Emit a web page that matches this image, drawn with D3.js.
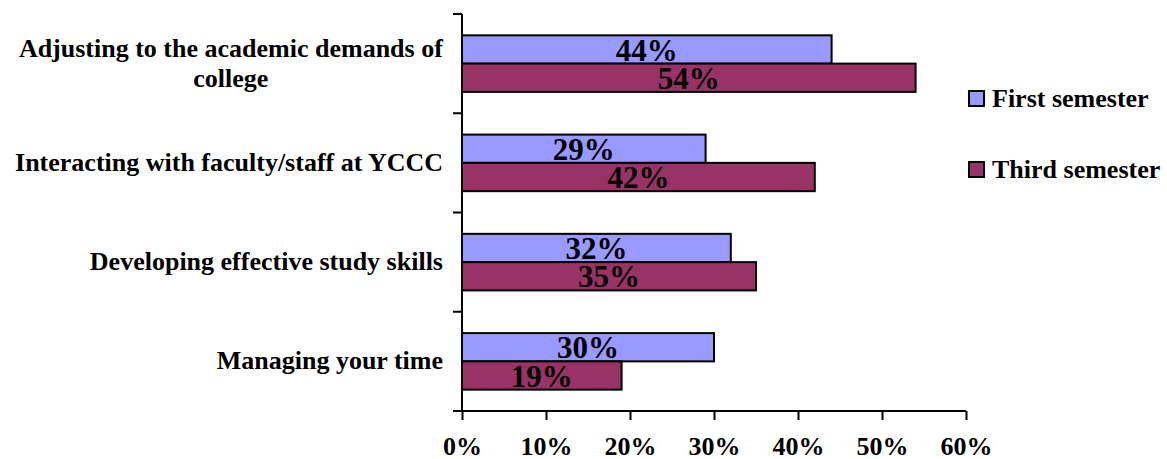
<!DOCTYPE html>
<html>
<head>
<meta charset="utf-8">
<script src="https://cdn.jsdelivr.net/npm/d3@7"></script>
<style>
  html, body { margin: 0; padding: 0; background: #fff; }
  svg { display: block; }
  text { font-family: "Liberation Serif", "Times New Roman", serif; font-weight: bold; fill: #000; }
</style>
</head>
<body>
<svg id="chart" width="1167" height="459"></svg>
<script>
// Categories listed top to bottom
const categories = [
  ["Adjusting to the academic demands of", "college"],
  ["Interacting with faculty/staff at YCCC"],
  ["Developing effective study skills"],
  ["Managing your time"]
];
const seriesNames = ["First semester", "Third semester"];
const firstSemester = [44, 29, 32, 30];
const thirdSemester = [54, 42, 35, 19];
const xTicks = [0, 10, 20, 30, 40, 50, 60];
const colors = ["#9999FF", "#993366"];

const svg = d3.select("#chart");
const plot = { left: 462, right: 966, top: 14, bottom: 411 };

const x = d3.scaleLinear().domain([0, 60]).range([plot.left, plot.right]);
const y = d3.scaleBand().domain(d3.range(categories.length))
  .range([plot.top, plot.bottom]).paddingInner(0.43).paddingOuter(0.215);
const ySub = d3.scaleBand().domain([0, 1]).range([0, y.bandwidth()]);

const series = [firstSemester, thirdSemester];

// Bars
series.forEach((vals, s) => {
  svg.append("g").selectAll("rect").data(vals).join("rect")
    .attr("x", x(0))
    .attr("y", (d, i) => y(i) + ySub(s))
    .attr("width", d => x(d) - x(0))
    .attr("height", ySub.bandwidth())
    .attr("fill", colors[s])
    .attr("stroke", "#000")
    .attr("stroke-width", 2);
});

// Value labels centred on bars
series.forEach((vals, s) => {
  svg.append("g").selectAll("text").data(vals).join("text")
    .attr("x", d => (x(0) + x(d)) / 2)
    .attr("y", (d, i) => y(i) + ySub(s) + ySub.bandwidth() - 3)
    .attr("text-anchor", "middle")
    .attr("font-size", 31)
    .text(d => d + "%");
});

// Category axis (left): ticks on band boundaries
const yAxis = svg.append("g");
yAxis.append("line")
  .attr("x1", plot.left).attr("x2", plot.left)
  .attr("y1", plot.top).attr("y2", plot.bottom)
  .attr("stroke", "#000").attr("stroke-width", 2);
const step = (plot.bottom - plot.top) / categories.length;
yAxis.selectAll("line.tk").data(d3.range(categories.length + 1)).join("line")
  .attr("class", "tk")
  .attr("x1", plot.left - 9).attr("x2", plot.left)
  .attr("y1", i => plot.top + i * step).attr("y2", i => plot.top + i * step)
  .attr("stroke", "#000").attr("stroke-width", 2);

// Category labels, multi-line blocks centred and right-aligned to the axis
categories.forEach((lines, i) => {
  const cy = y(i) + y.bandwidth() / 2;
  const lh = 30;
  const g = svg.append("g");
  const t = g.append("text").attr("font-size", 26).attr("text-anchor", "middle");
  lines.forEach((ln, j) => {
    t.append("tspan").attr("x", 0)
      .attr("y", cy - (lines.length - 1) * lh / 2 + j * lh + 8)
      .text(ln);
  });
  const w = t.node().getBBox().width;
  g.attr("transform", `translate(${443 - w / 2},0)`);
});

// Value axis (bottom)
const xAxis = d3.axisBottom(x).tickValues(xTicks).tickSize(9)
  .tickFormat(d => d + "%");
const gx = svg.append("g").attr("transform", `translate(0,${plot.bottom})`).call(xAxis);
gx.select(".domain").attr("stroke", "#000").attr("stroke-width", 2)
  .attr("d", `M${plot.left},0H${plot.right}`);
gx.selectAll(".tick line").attr("stroke", "#000").attr("stroke-width", 2);
gx.selectAll(".tick text").attr("font-size", 26).attr("dy", 0).attr("y", 44)
  .attr("font-family", "Liberation Serif, Times New Roman, serif").attr("font-weight", "bold").attr("fill", "#000");

// Legend
const legend = svg.append("g");
const legY = [98, 169];
seriesNames.forEach((name, s) => {
  legend.append("rect")
    .attr("x", 969).attr("y", legY[s] - 7)
    .attr("width", 15).attr("height", 15)
    .attr("fill", colors[s]).attr("stroke", "#000").attr("stroke-width", 2);
  legend.append("text")
    .attr("x", 992).attr("y", legY[s] + 9)
    .attr("font-size", 26)
    .text(name);
});
</script>
</body>
</html>
